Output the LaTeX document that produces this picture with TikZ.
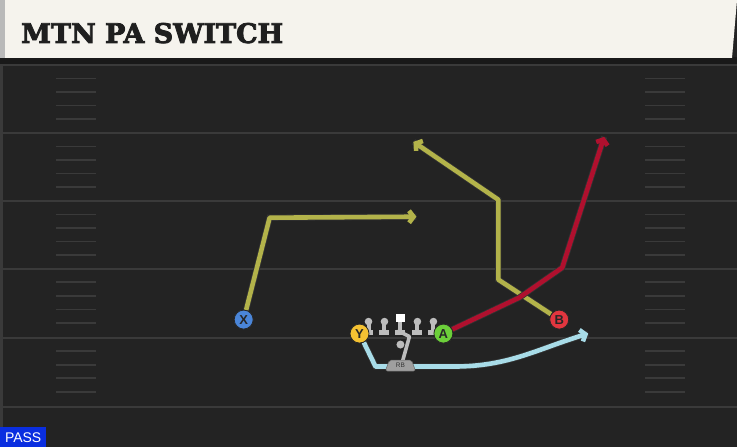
\documentclass[tikz,border=0pt]{standalone}
\usepackage{fontspec}
\setsansfont{Liberation Sans}
\newfontfamily\titlefont{DejaVu Serif}[FakeBold=3]
\usepackage{xcolor}
\usepackage{tikz}
\usetikzlibrary{arrows.meta}
\usetikzlibrary{shapes.geometric}
\usetikzlibrary{positioning}

\definecolor{fieldbg}{HTML}{232323}
\definecolor{fieldline}{HTML}{3A3A3A}
\definecolor{headbg}{HTML}{F5F3ED}
\definecolor{olive}{HTML}{B3B34A}
\definecolor{routered}{HTML}{B0102E}
\definecolor{routeblue}{HTML}{A8DCE8}
\definecolor{xblue}{HTML}{4A85D8}
\definecolor{yyellow}{HTML}{F5C232}
\definecolor{agreen}{HTML}{6CCF3A}
\definecolor{bred}{HTML}{E2363F}
\definecolor{passblue}{HTML}{0A2EE0}
\definecolor{linegray}{HTML}{BDBDBD}

\begin{document}
\begin{tikzpicture}[
    x = 1pt,
    y = -1pt,
    >={Straight Barb[length=4.5pt,width=12pt]}]
    \tikzstyle{player}=[circle,draw=black!85,line width=0.8pt,minimum size=19pt,
      inner sep=0pt,font=\sffamily\bfseries\fontsize{13}{13}\selectfont,text=black!85]
    \tikzstyle{route}=[line width=4.6pt,line join=round,->,
      preaction={draw=black!80,line width=6.2pt,-}]
    \tikzstyle{lineman}=[fill=linegray,draw=none]
    \tikzstyle{hash}=[fieldline,line width=1.6pt]
    % field
    \fill[fieldbg] (0,0) rectangle (738,448);
    \fill[fieldline] (0,63) rectangle (3,448);
    \fill[black!90] (0,57) rectangle (738,64);
    \foreach \y in {65,133,201,269,338,408}
      \draw[fieldline,line width=2pt] (3,\y) -- (738,\y);
    \foreach \y in {65,133,201,269,338}
      \foreach \k in {1,2,3,4} {
        \draw[hash] (56,\y+13.6*\k) -- (96,\y+13.6*\k);
        \draw[hash] (646,\y+13.6*\k) -- (686,\y+13.6*\k);
      }
    % header
    \fill[headbg] (0,0) -- (738,0) -- (733,58) -- (0,58) -- cycle;
    \fill[gray!55] (0,0) rectangle (5,58);
    \node[anchor=base west,inner sep=0pt,text=black!88] (title) at (21,43)
      {\titlefont\bfseries\fontsize{27}{28}\selectfont MTN PA SWITCH};
    \node[anchor=south west,fill=passblue,text=white,inner sep=0pt,
      minimum width=46pt,minimum height=20pt,font=\sffamily\fontsize{14}{14}\selectfont] (pass) at (0,448) {PASS};
    % route points
    \coordinate (x1) at (270,218);
    \coordinate (x2) at (417,217);
    \coordinate (b1) at (499,280);
    \coordinate (b2) at (499,200);
    \coordinate (b3) at (414,142);
    \coordinate (a1) at (520,298);
    \coordinate (a2) at (563,268);
    \coordinate (a3) at (605,137);
    \coordinate (y1) at (376,367);
    \coordinate (y2) at (455,367);
    \coordinate (y3) at (589,334);
    % players
    \node[player,fill=xblue] (X) at (244,320) {X};
    \node[player,fill=yyellow] (Y) at (360,334) {Y};
    \node[player,fill=agreen] (A) at (444,334) {A};
    \node[player,fill=bred] (B) at (560,320) {B};
    % routes
    \draw[route,olive] (X) -- (x1) -- (x2);
    \draw[route,olive] (B) -- (b1) -- (b2) -- (b3);
    \draw[route,routered] (A) -- (a1) -- (a2) -- (a3);
    \draw[route,routeblue] (Y) -- (y1) -- (y2) to[out=0,in=197] (y3);
    % line
    \foreach \x in {369,385,418,434} {
      \fill[lineman] (\x,322) circle (3.8);
      \fill[lineman] (\x-2,322) rectangle (\x+2,331);
      \fill[lineman] (\x-5,330) rectangle (\x+5,335);
    }
    \fill[lineman] (399,322) rectangle (403,331);
    \fill[lineman] (396,330) rectangle (406,335);
    \draw[linegray,line width=3.6pt,line join=round] (398,331) -- (410,337) -- (403,362);
    \fill[white] (397,314) rectangle (405.5,322.5);
    \node[circle,fill=linegray,inner sep=0pt,minimum size=8pt] (qb) at (401,345) {};
    \node[trapezium,trapezium angle=70,rounded corners=2pt,fill=gray!75,draw=black!60,
      line width=0.5pt,inner sep=0pt,minimum width=20pt,minimum height=11pt,
      font=\sffamily\fontsize{6.5}{6.5}\selectfont,text=black!80] (rb) at (401,366) {RB};
    \node[player,fill=yyellow] at (Y) {Y};
    \node[player,fill=agreen] at (A) {A};
    \node[player,fill=bred] at (B) {B};
    \node[player,fill=xblue] at (X) {X};
\end{tikzpicture}
\end{document}
